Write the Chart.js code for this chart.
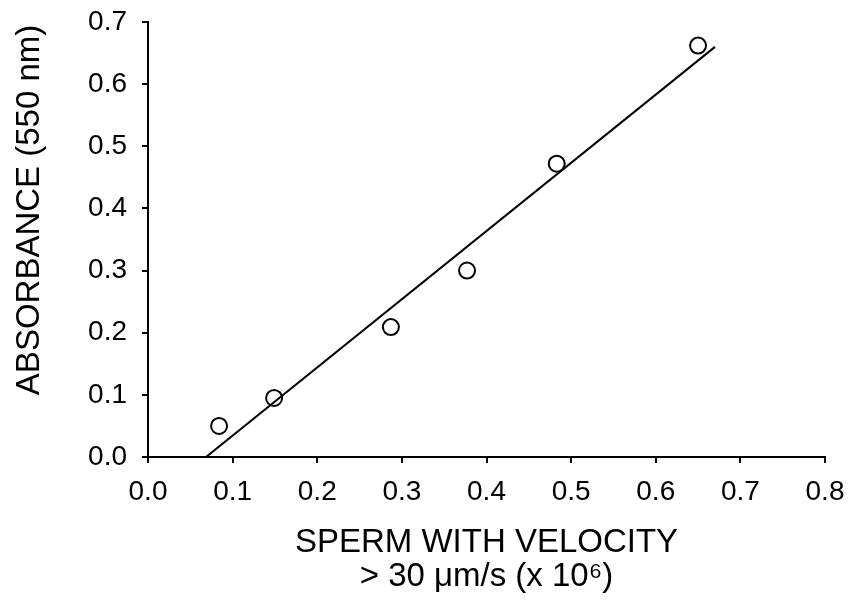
<!DOCTYPE html>
<html>
<head>
<meta charset="utf-8">
<script src="https://cdn.jsdelivr.net/npm/chart.js@4"></script>
<style>
  html, body { margin: 0; padding: 0; background: #fff; }
  #wrap { width: 852px; height: 601px; }
</style>
</head>
<body>
<div id="wrap"><canvas id="chart"></canvas></div>
<script>
// measured points
var spermX = [0.084, 0.149, 0.287, 0.377, 0.483, 0.650];
var absorbance = [0.050, 0.095, 0.209, 0.300, 0.472, 0.662];
// regression line end points
var fitX = [0.0686, 0.670];
var fitY = [0.0, 0.660];

var yTitle = 'ABSORBANCE (550 nm)';
var xTitle = ['SPERM WITH VELOCITY', '> 30 \u03bcm/s (x 10\u2076)'];

function toPoints(xs, ys) {
  var pts = [];
  for (var i = 0; i < xs.length; i++) pts.push({ x: xs[i], y: ys[i] });
  return pts;
}

var fontFamily = '"Liberation Sans", Arial, sans-serif';
Chart.defaults.font.family = fontFamily;
Chart.defaults.color = '#000';

// y title sits a bit above the axis centre, as in the figure
var yTitlePlugin = {
  id: 'yTitle',
  afterDraw: function(chart) {
    var ctx = chart.ctx;
    var area = chart.chartArea;
    ctx.save();
    ctx.translate(30, area.top + (area.bottom - area.top) * 0.432);
    ctx.rotate(-Math.PI / 2);
    ctx.font = '33px ' + fontFamily;
    ctx.fillStyle = '#000';
    ctx.textAlign = 'center';
    ctx.textBaseline = 'middle';
    ctx.fillText(yTitle, 0, 0);
    ctx.restore();
  }
};

new Chart(document.getElementById('chart'), {
  type: 'scatter',
  data: {
    datasets: [
      {
        label: 'data',
        data: toPoints(spermX, absorbance),
        pointStyle: 'circle',
        pointRadius: 8,
        pointBorderWidth: 2,
        borderColor: '#000',
        backgroundColor: 'rgba(0,0,0,0)'
      },
      {
        label: 'fit',
        type: 'line',
        data: toPoints(fitX, fitY),
        borderColor: '#000',
        borderWidth: 2,
        pointRadius: 0,
        fill: false
      }
    ]
  },
  options: {
    responsive: true,
    maintainAspectRatio: false,
    animation: false,
    layout: { padding: { left: 0, top: 22, right: 27, bottom: 7 } },
    plugins: {
      legend: { display: false },
      tooltip: { enabled: false }
    },
    scales: {
      x: {
        type: 'linear',
        min: 0,
        max: 0.8,
        afterFit: function(scale) {
          scale.height = 137;
          scale.paddingLeft = 0;
          scale.paddingRight = 0;
        },
        border: { display: true, color: '#000', width: 2 },
        grid: { drawOnChartArea: false, drawTicks: true, tickLength: 6, color: '#000', lineWidth: 2 },
        ticks: {
          stepSize: 0.1,
          padding: 12,
          font: { size: 28 },
          color: '#000',
          maxRotation: 0,
          callback: function(v) { return v.toFixed(1); }
        },
        title: {
          display: true,
          text: xTitle,
          font: { size: 33, lineHeight: 1.03 },
          color: '#000',
          padding: { top: 0, bottom: 0 }
        }
      },
      y: {
        type: 'linear',
        min: 0,
        max: 0.7,
        afterFit: function(scale) {
          scale.width = 148;
          scale.paddingTop = 0;
          scale.paddingBottom = 0;
        },
        border: { display: true, color: '#000', width: 2 },
        grid: { drawOnChartArea: false, drawTicks: true, tickLength: 6, color: '#000', lineWidth: 2 },
        ticks: {
          stepSize: 0.1,
          padding: 15,
          font: { size: 28 },
          color: '#000',
          callback: function(v) { return v.toFixed(1); }
        }
      }
    }
  },
  plugins: [yTitlePlugin]
});
</script>
</body>
</html>
